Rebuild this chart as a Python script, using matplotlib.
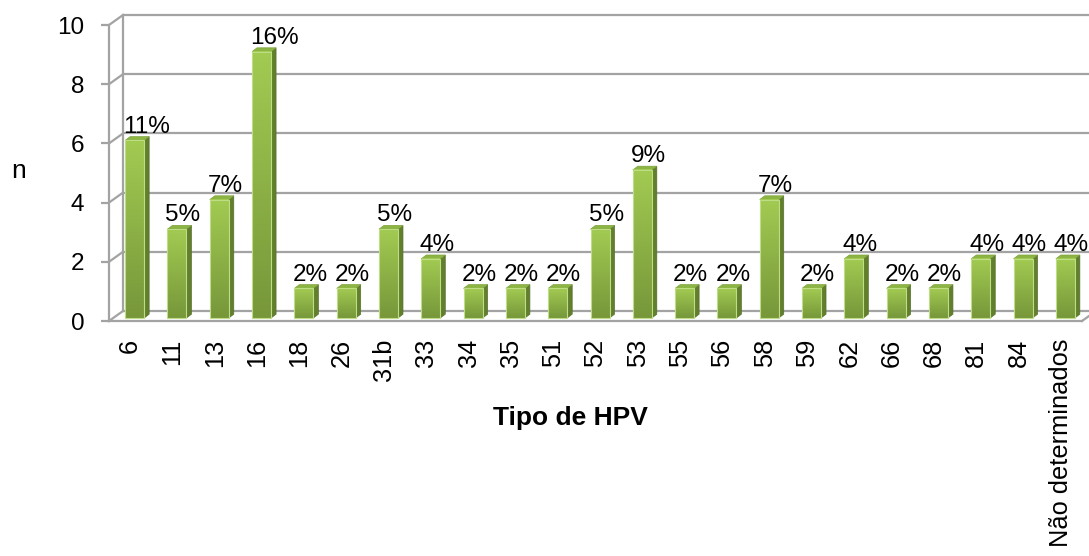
import numpy as np
import matplotlib
matplotlib.use("Agg")
import matplotlib.pyplot as plt
from matplotlib.patches import Polygon
from matplotlib.colors import LinearSegmentedColormap

plt.rcParams['font.family'] = ['Liberation Sans', 'DejaVu Sans']

# ---- data ----
categories = ["6", "11", "13", "16", "18", "26", "31b", "33", "34", "35", "51", "52",
              "53", "55", "56", "58", "59", "62", "66", "68", "81", "84", "Não determinados"]
counts = [6, 3, 4, 9, 1, 1, 3, 2, 1, 1, 1, 3, 5, 1, 1, 4, 1, 2, 1, 1, 2, 2, 2]
pct_labels = ["11%", "5%", "7%", "16%", "2%", "2%", "5%", "4%", "2%", "2%", "2%", "5%",
              "9%", "2%", "2%", "7%", "2%", "4%", "2%", "2%", "4%", "4%", "4%"]
yticks = [0, 2, 4, 6, 8, 10]

# ---- layout ----
W, H = 1089, 556
fig = plt.figure(figsize=(W / 100, H / 100), dpi=100)
L, R, B, T = 109, 1082, 321, 25
ax = fig.add_axes([L / W, 1 - B / H, (R - L) / W, (B - T) / H])
n = len(categories)
ax.set_xlim(-0.5, n - 0.5)
ax.set_ylim(0, 10)
ux = (R - L) / n
uy = (B - T) / 10.0


def dx(px):
    return px / ux


def dy(px):
    return px / uy


grid_c = '#A3A3A3'
glw = 1.6
WX, WY = 14, 10  # wall depth in px

# back wall gridlines and left-wall diagonals
for yv in yticks:
    ax.plot([-0.5 + dx(WX), n - 0.5 + dx(WX) + dx(20)], [yv + dy(WY)] * 2,
            color=grid_c, lw=glw, clip_on=False, zorder=1, solid_capstyle='butt')
    ax.plot([-0.5, -0.5 + dx(WX)], [yv, yv + dy(WY)], color=grid_c, lw=glw,
            clip_on=False, zorder=1)
# back-left vertical
ax.plot([-0.5 + dx(WX)] * 2, [dy(WY), 10 + dy(WY)], color=grid_c, lw=glw,
        clip_on=False, zorder=1)
# floor right diagonal
ax.plot([n - 0.5, n - 0.5 + dx(WX)], [0, dy(WY)], color=grid_c, lw=glw,
        clip_on=False, zorder=1)

# ---- bars ----
x = np.arange(n)
bw = dx(19)
boff_x, boff_y = dx(4.5), dy(3)
dd_x, dd_y = dx(5), dy(3.8)
bars = ax.bar(x + boff_x, counts, width=bw, bottom=boff_y, color='#8CB448',
              edgecolor='none', zorder=3, clip_on=False)
cmap = LinearSegmentedColormap.from_list('g', ['#77973A', '#A2CB52'])
grad = np.linspace(1, 0, 128).reshape(-1, 1)
for bar, v, lbl in zip(bars, counts, pct_labels):
    xl = bar.get_x()
    xr = xl + bar.get_width()
    b0 = bar.get_y()
    top = b0 + bar.get_height()
    im = ax.imshow(grad, extent=[xl, xr, b0, top], cmap=cmap, aspect='auto',
                   zorder=3.1, interpolation='bilinear', clip_on=False)
    im.set_clip_path(bar)
    ax.add_patch(Polygon([(xl, b0), (xr, b0), (xr, top), (xl, top)], closed=True,
                         fill=False, edgecolor='#BFDC86', lw=0.8, zorder=3.2, clip_on=False))
    # side face
    ax.add_patch(Polygon([(xr, b0), (xr, top), (xr + dd_x, top + dd_y), (xr + dd_x, b0 + dd_y)],
                         closed=True, facecolor='#617F2C', edgecolor='#55722A', lw=0.5,
                         zorder=3, clip_on=False))
    # top face
    ax.add_patch(Polygon([(xl, top), (xr, top), (xr + dd_x, top + dd_y), (xl + dd_x, top + dd_y)],
                         closed=True, facecolor='#8DB544', edgecolor='#7FA23E', lw=0.5,
                         zorder=3, clip_on=False))
    ax.text(xl - dx(2), top + dd_y + dy(4), lbl, ha='left', va='baseline',
            fontsize=17.5, color='black', zorder=5, clip_on=False)

ax.set_xlim(-0.5, n - 0.5)
ax.set_ylim(0, 10)

# ---- axes styling ----
for s in ['top', 'right']:
    ax.spines[s].set_visible(False)
for s in ['left', 'bottom']:
    ax.spines[s].set_color(grid_c)
    ax.spines[s].set_linewidth(glw)
    ax.spines[s].set_zorder(2)
ax.set_yticks(yticks)
ax.set_yticklabels([str(v) for v in yticks])
ax.tick_params(axis='y', length=5.8, width=glw, color=grid_c, pad=12, labelsize=17.5)
ax.set_xticks(x)
ax.set_xticklabels(categories, rotation=90)
ax.tick_params(axis='x', length=0, pad=13, labelsize=18.3)
ax.patch.set_visible(False)

fig.text(19 / W, 1 - 171 / H, 'n', ha='center', va='center', fontsize=19)
fig.text(570 / W, 1 - 418 / H, 'Tipo de HPV', ha='center', va='center',
         fontsize=19, fontweight='bold')

fig.savefig('out.png', dpi=100)
